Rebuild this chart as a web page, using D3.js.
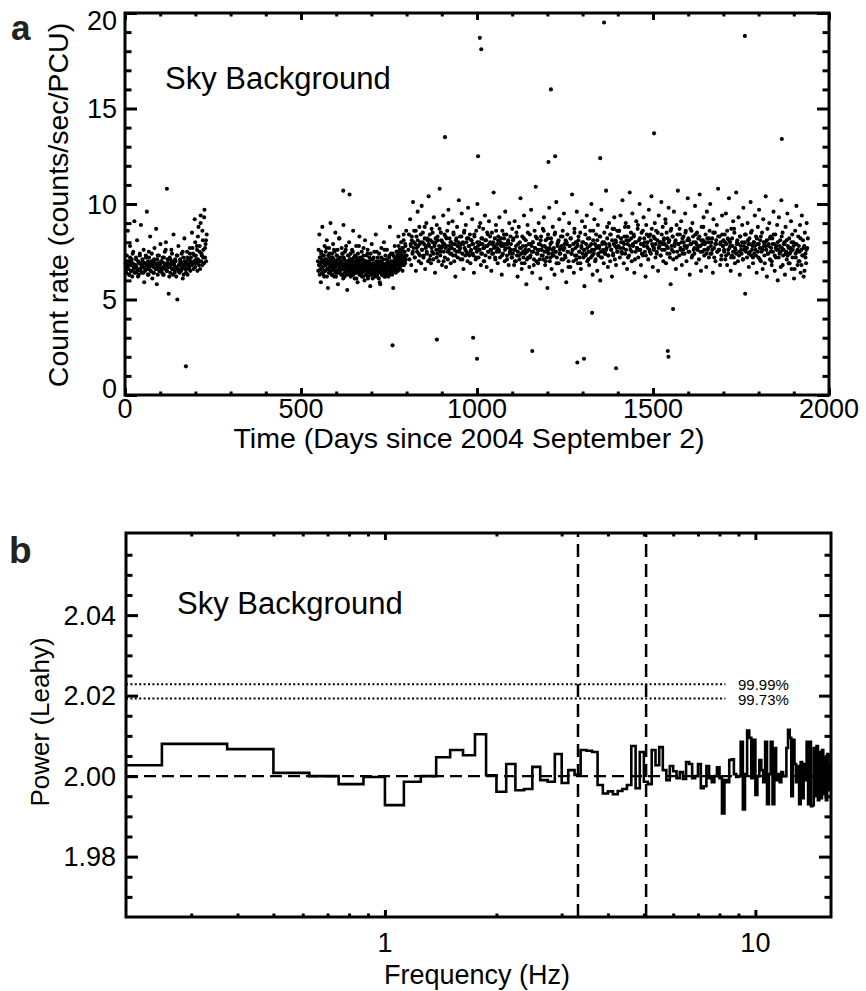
<!DOCTYPE html>
<html>
<head>
<meta charset="utf-8">
<script src="https://cdn.jsdelivr.net/npm/d3@7"></script>
<style>
  body { margin: 0; background: #fff; }
  text { font-family: "Liberation Sans", Arial, Helvetica, sans-serif; fill: #000; }
</style>
</head>
<body>
<svg id="chart" width="866" height="991"></svg>
<script>
'use strict';

// ---------- panel a: sky background count rate ----------
// each segment: [firstDay, lastDay] and the rates read off the cloud
const seg1Days = [2, 232];
const seg1Rates = [
  6.9,6.4,7.3,6.7,8.6,6.6,7.0,6.3,7.8,6.8, 6.5,7.1,6.2,6.9,7.5,6.6,9.1,6.8,6.4,7.2,
  6.7,8.1,6.5,7.0,6.3,6.9,7.4,6.6,8.9,6.8, 6.4,7.1,6.7,7.6,5.9,6.9,6.5,7.3,6.8,9.6,
  6.6,7.0,6.3,7.2,6.9,8.3,6.5,6.8,7.4,6.1, 7.0,6.7,6.4,7.7,6.9,6.6,8.7,6.8,7.1,6.3,
  6.9,7.3,6.5,6.8,7.9,6.6,7.0,6.4,7.2,6.7, 6.3,6.9,7.5,6.6,8.0,6.8,6.5,7.1,6.9,5.3,
  6.7,7.2,6.4,6.9,7.6,6.6,7.0,6.3,8.4,6.8, 6.5,7.1,6.7,6.2,7.3,5.0,6.6,7.8,6.8,6.4,
  6.9,7.0,6.5,7.4,6.7,6.1,7.2,6.8,8.2,6.6, 7.0,6.4,6.9,7.5,6.3,6.8,7.1,6.6,7.7,6.5,
  7.2,6.8,8.5,6.9,7.4,6.6,7.0,9.2,6.7,7.3, 6.9,7.8,6.5,7.1,8.8,6.8,7.5,6.6,9.4,7.0,
  7.3,6.8,8.1,7.6,6.9,9.7,7.2,7.9,7.0,8.4
];
const seg1bDays = [4, 230];
const seg1bRates = [
  6.6,7.0,6.8,6.3,7.2,6.5,6.9,7.4,6.7,6.4, 6.8,7.1,6.6,6.2,6.9,7.3,6.5,6.7,7.0,6.4,
  6.9,6.6,7.2,6.8,6.3,7.5,6.7,6.5,7.0,6.8, 6.4,7.1,6.9,6.6,5.8,7.3,6.7,6.5,6.9,7.0,
  6.6,6.3,7.2,6.8,7.6,6.5,6.9,6.7,6.2,7.1, 6.8,7.4,6.6,6.9,6.4,7.0,6.7,7.3,6.5,6.8,
  7.1,6.6,6.9,7.5,6.3,7.0,6.8,6.6,7.2,6.9, 6.7,7.4,7.0,6.8,7.7,6.9,7.3,8.0,7.1,7.6,
  8.3,7.0,7.8,9.0,7.4,8.6,7.2,9.3,7.7,8.1
];
const seg2Days = [548, 800];
const seg2Rates = [
  7.0,6.5,7.6,6.8,8.4,6.3,7.2,6.9,5.9,7.4, 6.6,7.1,8.8,6.7,6.4,7.3,7.0,6.2,7.8,6.9,
  6.5,7.5,6.8,7.1,8.1,6.6,7.0,5.6,7.3,6.9, 7.7,6.4,7.2,6.8,9.0,6.5,7.0,6.3,7.4,6.9,
  6.7,7.9,6.6,7.1,6.2,7.5,6.8,8.5,6.4,7.0, 6.9,7.3,6.5,7.6,5.8,7.1,6.8,6.4,8.2,6.7,
  7.2,6.5,7.0,6.9,7.7,6.3,6.8,7.4,6.6,8.9, 6.9,7.1,6.2,7.5,6.7,6.4,7.8,6.8,7.0,5.5,
  6.6,7.3,6.9,6.5,8.0,6.8,7.1,6.3,7.4,6.7, 6.9,6.4,7.6,6.6,7.0,8.6,6.5,7.2,6.8,6.1,
  7.3,6.7,6.9,7.8,6.4,7.1,6.6,5.9,7.4,6.8, 6.5,7.0,8.3,6.7,6.3,7.2,6.9,6.6,7.5,6.4,
  6.8,7.1,6.2,7.7,6.6,6.9,6.5,8.1,6.7,7.0, 6.3,7.3,6.8,6.5,7.6,6.1,6.9,7.0,6.4,7.2,
  6.6,5.7,7.4,6.8,6.5,7.9,6.3,6.7,7.1,6.6, 6.9,6.4,7.5,6.2,6.8,6.6,8.4,6.5,7.0,6.3,
  6.7,7.2,6.4,6.9,6.1,7.4,6.6,6.8,5.8,7.0, 6.5,7.7,6.3,6.7,6.9,6.4,7.1,6.6,8.0,6.2,
  6.8,6.5,7.3,6.7,6.3,6.9,7.6,6.4,6.6,7.0, 6.2,6.8,7.2,6.5,8.8,6.7,6.4,7.4,6.9,6.6,
  6.3,7.0,6.6,5.6,7.3,6.8,6.5,7.8,6.7,7.1, 6.4,6.9,7.5,6.6,6.8,7.2,6.5,8.3,6.9,7.0,
  6.7,7.4,6.6,7.1,6.8,7.6,6.9,7.3,6.5,7.7, 7.0,8.1,6.8,7.2,7.5,6.9,7.8,7.1,8.6,7.3
];
const seg2bDays = [552, 796];
const seg2bRates = [
  6.8,7.2,6.6,6.9,7.5,6.4,7.0,6.7,6.3,7.3, 6.9,6.5,7.1,6.8,7.7,6.2,6.6,7.0,6.9,6.4,
  7.4,6.7,6.5,7.1,6.8,6.3,7.2,6.6,6.9,7.6, 6.5,7.0,6.7,6.2,7.3,6.8,6.4,7.1,6.6,8.2,
  6.9,6.5,7.0,6.3,6.8,7.4,6.6,6.1,7.2,6.7, 6.4,6.9,7.6,6.5,6.8,6.3,7.0,6.7,7.3,6.4,
  6.6,6.9,6.2,7.1,6.5,6.8,7.5,6.3,6.7,6.6, 7.0,6.4,6.8,6.1,7.2,6.6,6.5,6.9,7.8,6.3,
  6.7,6.4,7.1,6.6,6.2,6.9,6.5,7.3,6.8,6.0, 6.6,7.0,6.3,6.7,6.5,7.4,6.2,6.8,6.6,6.4,
  6.9,6.3,7.1,6.5,6.7,6.1,6.8,7.2,6.4,6.6, 6.3,6.9,6.5,7.5,6.2,6.7,6.4,7.0,6.6,5.9,
  6.8,6.5,7.2,6.3,6.6,6.9,6.4,6.7,7.6,6.5, 6.2,6.8,6.6,7.1,6.4,6.9,6.5,6.3,7.3,6.7,
  6.6,7.0,6.4,6.8,7.4,6.5,6.9,6.7,7.2,6.6, 7.0,6.8,7.5,6.9,7.3,7.1,7.8,6.9,7.6,7.2,
  7.4,8.0,7.1,7.7,6.8,7.3,8.4,7.5,7.0,7.9
];
const seg3Days = [805, 1100];
const seg3Rates = [
  7.6,8.4,7.1,9.2,7.9,6.8,8.1,7.4,10.1,7.7, 8.6,7.2,7.9,6.5,8.3,7.5,9.6,7.8,7.0,8.8,
  7.3,8.0,6.9,9.9,7.6,8.5,7.2,7.9,8.2,6.6, 7.7,9.0,7.4,8.1,7.0,10.4,7.8,8.4,7.3,6.9,
  8.7,7.5,8.0,7.1,9.3,7.8,6.4,8.2,7.6,8.9, 7.4,8.1,7.0,7.8,10.8,7.3,8.5,7.7,6.8,8.0,
  9.4,7.5,7.9,7.2,8.3,6.7,7.8,8.6,7.1,9.7, 7.6,8.2,7.4,6.9,8.0,7.7,9.1,7.3,8.4,7.0,
  7.9,6.2,8.1,7.5,8.8,7.2,7.8,10.2,7.6,8.3, 7.1,7.9,9.5,7.4,8.0,6.6,8.5,7.7,7.3,8.9,
  7.5,8.2,7.0,9.8,7.8,7.3,8.4,6.9,7.6,8.1, 9.2,7.4,7.9,6.4,8.3,7.7,7.1,8.6,7.5,10.0,
  7.8,7.2,8.0,7.6,9.0,6.8,8.2,7.4,7.9,8.7, 7.0,7.7,9.4,7.3,8.1,6.7,7.8,8.4,7.5,9.1,
  7.2,8.0,7.6,6.5,8.5,7.9,7.4,10.6,7.7,8.2, 7.1,8.9,7.5,7.9,6.9,8.3,7.6,9.3,7.2,8.0,
  7.8,6.3,8.6,7.4,7.9,8.2,7.0,9.6,7.7,8.4, 7.3,7.9,8.1,6.8,9.0,7.5,8.3,7.6,7.2,8.7
];
const seg4Days = [1102, 1400];
const seg4Rates = [
  7.4,8.2,6.8,9.1,7.6,7.0,8.5,7.3,6.2,7.9, 8.8,7.1,7.7,10.3,7.4,6.6,8.3,7.8,7.2,9.4,
  6.9,7.6,8.1,5.8,7.5,8.9,7.2,7.9,6.7,8.4, 7.3,9.7,7.8,6.4,8.0,7.5,7.1,8.6,7.7,10.9,
  7.0,8.2,7.4,6.9,9.0,7.6,7.9,6.1,8.3,7.3, 7.8,8.7,7.1,9.3,7.5,6.8,8.1,7.7,7.2,5.6,
  8.4,7.6,9.8,7.0,7.9,8.2,6.6,7.4,8.8,7.3, 7.7,6.3,8.5,7.5,10.1,7.2,7.9,8.0,6.9,9.2,
  7.6,7.4,8.3,7.8,6.5,8.6,7.1,9.5,7.7,7.3, 8.1,5.9,7.9,8.4,7.5,7.0,9.0,7.8,6.7,8.2,
  7.4,10.5,7.6,7.9,6.4,8.7,7.3,8.0,7.1,9.6, 7.8,6.9,8.3,7.5,7.2,8.5,6.6,7.7,9.1,7.4,
  8.0,7.6,5.7,8.8,7.3,7.9,9.4,7.0,8.2,7.5, 6.8,7.8,8.6,7.2,10.0,7.6,6.3,8.1,7.4,9.2,
  7.9,7.1,8.4,7.7,6.5,8.9,7.3,7.8,8.3,6.0, 7.5,9.7,7.2,8.0,7.6,6.9,8.5,7.4,7.9,10.7,
  7.7,8.2,6.7,7.3,9.0,7.8,7.0,8.4,7.6,6.2, 8.7,7.4,7.9,9.3,7.1,8.1,6.8,7.7,8.6,7.5
];
const seg5Days = [1402, 1700];
const seg5Rates = [
  7.8,8.6,7.2,9.4,8.0,7.5,10.2,7.7,6.9,8.3, 7.4,9.0,8.1,6.6,7.9,8.8,7.3,10.6,7.6,8.2,
  7.0,9.5,7.8,8.4,6.4,8.0,7.5,9.1,7.7,8.7, 7.2,8.1,10.0,7.6,6.8,8.5,7.9,7.3,9.3,8.2,
  7.5,6.2,8.9,7.8,8.0,7.1,9.7,7.6,8.4,7.4, 10.4,7.9,6.7,8.3,7.7,9.0,7.2,8.6,7.5,8.1,
  6.5,9.4,7.8,8.0,7.3,10.1,7.6,8.8,7.0,8.2, 7.9,9.2,6.9,8.5,7.4,7.7,9.8,8.1,7.2,5.8,
  8.7,7.6,8.3,7.1,9.6,7.8,8.0,6.6,8.9,7.5, 10.7,7.9,7.3,8.4,7.7,9.1,6.8,8.2,7.6,8.0,
  7.4,9.5,8.6,7.0,7.8,10.3,7.5,8.1,6.3,8.7, 7.9,7.2,9.0,8.3,7.6,7.4,9.9,8.0,6.9,8.5,
  7.7,8.2,7.1,10.5,7.8,6.5,8.8,7.5,8.1,9.3, 7.3,7.9,8.4,6.7,9.6,7.6,8.0,7.2,8.6,10.0,
  7.8,7.4,8.2,6.4,9.2,7.7,8.5,7.0,7.9,8.9, 7.5,10.8,7.6,8.3,6.8,8.0,7.3,9.4,7.8,8.1
];
const seg6Days = [1702, 1940];
const seg6Rates = [
  7.6,8.4,7.1,9.5,7.9,6.8,8.2,7.4,10.3,7.7, 8.0,6.5,8.7,7.3,7.8,9.1,7.2,8.5,6.9,7.6,
  10.6,7.9,8.1,7.0,9.3,7.5,6.3,8.3,7.8,7.4, 8.9,7.1,9.8,7.6,8.0,5.3,8.4,7.7,7.2,9.0,
  7.9,6.7,8.2,7.5,10.1,7.3,8.6,7.8,6.9,8.0, 7.4,9.4,7.6,8.3,6.4,7.9,8.8,7.2,9.7,7.7,
  8.1,7.0,7.5,8.5,6.6,9.2,7.8,7.3,8.0,10.4, 7.6,6.2,8.7,7.4,7.9,9.0,7.1,8.3,7.7,6.8,
  8.2,7.5,9.6,7.9,6.5,8.4,7.2,7.8,8.9,6.0, 7.6,9.3,7.4,8.1,6.7,10.2,7.7,8.5,7.3,7.9,
  8.0,6.3,8.8,7.5,7.1,9.5,7.8,6.9,8.2,7.4, 7.7,9.1,6.6,8.4,7.6,8.0,6.1,7.9,8.6,7.2,
  9.9,7.5,6.8,8.3,7.8,7.0,8.9,6.4,7.6,9.4, 7.3,8.1,6.2,7.8,8.5,7.4,6.9,9.0,7.7,8.2
];
// second pass over the long stretch: the dense core of the cloud
const seg7Days = [812, 1936];
const seg7Rates = [
  7.8,8.3,7.5,8.0,7.2,8.6,7.7,8.1,7.4,7.9, 8.4,7.6,8.0,7.3,8.8,7.8,7.5,8.2,7.9,7.1,
  8.1,7.7,8.5,7.4,7.9,8.0,7.2,8.3,7.6,8.7, 7.5,8.1,7.8,7.0,8.4,7.7,8.2,7.5,9.0,7.8,
  8.0,7.4,7.9,8.5,7.6,7.3,8.2,7.8,8.0,7.5, 7.7,8.3,7.1,7.9,8.6,7.6,8.0,7.4,8.2,7.8,
  7.5,8.1,7.9,7.3,8.4,7.7,7.2,8.0,7.6,8.8, 7.9,7.4,8.2,7.7,7.0,8.1,7.8,8.5,7.5,7.9,
  8.3,7.6,7.4,8.0,7.8,7.2,8.6,7.7,8.1,7.5, 7.9,8.2,7.3,7.8,8.4,7.6,7.9,7.1,8.0,7.7,
  7.4,7.9,7.2,8.1,7.6,7.0,7.8,8.3,7.5,7.3, 8.0,7.7,6.9,7.5,8.2,7.4,7.8,7.1,8.5,7.6,
  7.2,7.9,7.5,8.0,6.8,7.7,8.3,7.4,7.6,7.9, 7.1,8.1,7.6,7.3,8.6,7.8,7.0,7.5,8.2,7.4,
  7.7,7.2,8.0,7.6,7.3,8.4,7.5,6.9,7.8,8.1, 7.4,7.7,7.1,8.3,7.6,7.9,7.2,8.0,7.5,6.7,
  7.8,8.2,7.4,7.6,7.0,8.5,7.7,7.3,7.9,8.1, 7.5,6.9,7.8,8.0,7.2,7.6,8.4,7.4,7.7,7.1,
  8.2,7.5,7.9,7.3,8.6,7.6,7.0,7.8,8.1,7.4, 7.7,8.3,7.2,7.9,7.5,8.0,7.4,7.6,8.8,7.3,
  7.9,8.4,7.6,8.1,7.3,8.7,7.8,8.0,7.5,8.3, 8.6,7.7,8.2,7.4,8.0,7.9,8.8,7.6,8.3,7.2,
  8.1,7.8,8.5,7.5,7.9,8.3,7.1,8.0,7.7,8.9, 7.6,8.2,7.9,7.4,8.6,7.8,8.0,7.3,8.4,7.7,
  8.3,7.5,8.1,8.7,7.8,7.6,8.2,7.9,7.4,8.5, 7.7,8.0,7.3,8.4,7.9,8.1,7.6,9.0,7.8,8.2,
  8.0,7.4,8.6,7.8,8.3,7.5,7.9,8.1,7.2,8.4, 7.9,8.7,7.6,8.0,7.4,8.3,7.8,8.5,7.7,8.1,
  8.2,7.5,7.9,8.6,7.3,8.0,7.7,8.4,7.9,7.6, 7.8,8.3,7.5,8.1,7.9,8.8,7.6,8.0,7.4,8.2,
  7.7,8.2,7.4,8.0,7.6,8.5,7.2,7.9,8.1,7.5, 8.3,7.6,7.9,7.1,8.4,7.8,7.5,8.0,7.3,8.6,
  7.6,8.1,7.8,7.2,8.2,7.5,8.7,7.7,7.4,8.0, 7.9,7.3,8.3,7.6,8.0,7.1,7.8,8.4,7.5,7.7,
  8.1,7.4,7.9,8.5,7.6,7.2,8.0,7.8,7.3,8.2, 7.5,7.9,7.1,8.3,7.7,7.6,8.0,6.9,7.8,8.1,
  7.4,7.8,8.2,7.5,7.0,7.9,8.4,7.3,7.7,7.6, 8.0,7.2,7.8,7.5,8.3,6.8,7.6,7.9,7.4,8.1,
  7.3,7.7,6.9,7.5,8.0,7.2,7.8,6.6,7.4,7.9, 7.6,7.0,7.5,8.2,6.8,7.3,7.7,6.5,7.2,7.6
];
// isolated points well away from the cloud
const outlierDays  = [119, 173, 620, 638, 760, 886, 909, 989, 1000, 1003, 1008, 1012, 1157, 1203, 1210, 1222, 1285, 1304, 1327, 1350, 1361, 1395, 1503, 1542, 1544, 1557, 1761, 1866];
const outlierRates = [10.8, 1.5, 10.7, 10.5, 2.6, 2.9, 13.5, 3.0, 1.9, 12.5, 18.7, 18.1, 2.3, 12.2, 16.0, 12.5, 1.7, 1.9, 4.3, 12.4, 19.5, 1.4, 13.7, 2.3, 2.0, 4.5, 18.8, 13.4];

const timeTicks = [0, 500, 1000, 1500, 2000];
const rateTicks = [0, 5, 10, 15, 20];

// ---------- panel b: power spectrum ----------
const binWidth = 0.125;            // Hz, first bin starts at 0.125 Hz
const leahyPower = [
  2.0027, 2.0080, 2.0067, 2.0008, 2.0000, 1.9980, 1.9998, 1.9928, 1.9986, 2.0000,
  2.0047, 2.0065, 2.0052, 2.0104, 2.0002, 1.9961, 2.0030, 1.9965, 1.9968, 2.0023,
  1.9990, 1.9986, 2.0055, 1.9983, 2.0015, 2.0003, 2.0065, 2.0063, 2.0060, 1.9978,
  1.9957, 1.9962, 1.9955, 1.9963, 1.9968, 1.9978, 2.0075, 1.9970, 2.0060,
  1.9986, 1.9980, 2.0065, 2.0027, 2.0072, 2.0015, 1.9990, 2.0025,
  2.0012, 1.9995, 2.0010, 1.9993, 2.0035, 2.0030, 1.9995, 2.0000,
  2.0030, 1.9970, 1.9975, 2.0025, 1.9995, 1.9985, 2.0000, 2.0022,
  1.9995, 1.9907, 1.9990, 1.9985, 2.0040, 2.0042, 2.0005, 1.9998,
  2.0000, 2.0085, 1.9917, 2.0005, 2.0113, 2.0095, 1.9995, 2.0090,
  1.9953, 2.0000, 2.0040, 2.0015, 1.9985, 2.0085, 1.9930, 2.0005,
  2.0085, 1.9930, 2.0070, 1.9990, 2.0005, 1.9985, 2.0010, 2.0000,
  2.0000, 2.0070, 2.0115, 2.0095, 1.9950, 2.0090, 2.0030, 1.9985,
  2.0025, 1.9930, 2.0035, 1.9945, 2.0030, 1.9990, 2.0085, 1.9930,
  2.0085, 1.9925, 1.9928, 2.0070, 1.9950, 2.0075, 1.9940, 2.0060,
  1.9945, 2.0065, 1.9955, 2.0045, 1.9940, 2.0055, 1.9965, 2.0030
];
const meanPower = 2.0;
const confLevels = [2.0228, 2.0193];
const confLabels = ['99.99%', '99.73%'];
const confEnd = 8.3;               // Hz where the dotted lines stop
const markFreqs = [3.32, 5.07];    // vertical dashed lines
const freqTicks = [1, 10];
const powerTicks = [1.98, 2.00, 2.02, 2.04];

// ---------- drawing ----------
const svg = d3.select('#chart');
svg.append('rect').attr('width', 866).attr('height', 991).attr('fill', '#fff');

const AXW = 3;
const TICKFONT = 27;

function drawTicks(g, axisFn, scale, values, len, transform) {
  g.append('g')
    .attr('transform', transform)
    .call(axisFn(scale).tickValues(values).tickSize(-len).tickFormat(''))
    .call(s => s.select('.domain').remove())
    .selectAll('line').attr('stroke', '#000').attr('stroke-width', AXW);
}

function frame(g, x, y, xMaj, xMin, yMaj, yMin) {
  const [x0, x1] = x.range();
  const [y0, y1] = y.range();   // y0 bottom, y1 top
  drawTicks(g, d3.axisBottom, x, xMaj, 7, `translate(0,${y0})`);
  drawTicks(g, d3.axisBottom, x, xMin, 3.5, `translate(0,${y0})`);
  drawTicks(g, d3.axisTop, x, xMaj, 7, `translate(0,${y1})`);
  drawTicks(g, d3.axisTop, x, xMin, 3.5, `translate(0,${y1})`);
  drawTicks(g, d3.axisLeft, y, yMaj, 12, `translate(${x0},0)`);
  drawTicks(g, d3.axisLeft, y, yMin, 6.5, `translate(${x0},0)`);
  drawTicks(g, d3.axisRight, y, yMaj, 12, `translate(${x1},0)`);
  drawTicks(g, d3.axisRight, y, yMin, 6.5, `translate(${x1},0)`);
  g.append('rect')
    .attr('x', x0).attr('y', y1)
    .attr('width', x1 - x0).attr('height', y0 - y1)
    .attr('fill', 'none').attr('stroke', '#000').attr('stroke-width', AXW);
}

// ----- panel a -----
const xa = d3.scaleLinear().domain([0, 2000]).range([125, 829]);
const ya = d3.scaleLinear().domain([0, 20]).range([395, 13]);
const ga = svg.append('g');

const segments = [
  [seg1Days, seg1Rates], [seg1bDays, seg1bRates],
  [seg2Days, seg2Rates], [seg2bDays, seg2bRates],
  [seg3Days, seg3Rates], [seg4Days, seg4Rates], [seg5Days, seg5Rates],
  [seg6Days, seg6Rates], [seg7Days, seg7Rates]
];
const points = [];
segments.forEach(([days, rates]) => {
  const step = (days[1] - days[0]) / (rates.length - 1);
  rates.forEach((r, i) => points.push({ t: days[0] + i * step, r }));
});
outlierDays.forEach((t, i) => points.push({ t, r: outlierRates[i] }));

ga.append('g').selectAll('circle')
  .data(points)
  .join('circle')
  .attr('cx', d => xa(d.t))
  .attr('cy', d => ya(d.r))
  .attr('r', 2.05)
  .attr('fill', '#000');

frame(ga, xa, ya,
  timeTicks, d3.range(100, 2000, 100).filter(v => v % 500 !== 0),
  rateTicks, d3.range(1, 20).filter(v => v % 5 !== 0));

ga.append('g').selectAll('text')
  .data(timeTicks).join('text')
  .attr('x', d => xa(d)).attr('y', 418)
  .attr('text-anchor', 'middle').attr('font-size', TICKFONT)
  .text(d => d);
ga.append('g').selectAll('text')
  .data(rateTicks).join('text')
  .attr('x', 117).attr('y', d => Math.min(Math.max(ya(d), 20), 388))
  .attr('dy', '0.36em')
  .attr('text-anchor', 'end').attr('font-size', TICKFONT)
  .text(d => d);

ga.append('text').attr('x', 469).attr('y', 448)
  .attr('text-anchor', 'middle').attr('font-size', 28.5)
  .text('Time (Days since 2004 September 2)');
ga.append('text')
  .attr('transform', 'translate(68,205) rotate(-90)')
  .attr('text-anchor', 'middle').attr('font-size', 28.5)
  .text('Count rate (counts/sec/PCU)');
ga.append('text').attr('x', 165).attr('y', 89).attr('font-size', 31)
  .text('Sky Background');
ga.append('text').attr('x', 11).attr('y', 40).attr('font-size', 35)
  .attr('font-weight', 'bold').style('fill', '#222').text('a');

// ----- panel b -----
const xb = d3.scaleLog().domain([0.2, 16]).range([126, 831]);
const yb = d3.scaleLinear().domain([1.965, 2.0604]).range([917, 533]);
const gb = svg.append('g');

svg.append('clipPath').attr('id', 'clipb')
  .append('rect').attr('x', 126).attr('y', 533).attr('width', 705).attr('height', 384);

const steps = leahyPower.map((p, i) => ({ f: binWidth * (i + 1), p }));
steps.push({ f: binWidth * (leahyPower.length + 1), p: leahyPower[leahyPower.length - 1] });

const plot = gb.append('g').attr('clip-path', 'url(#clipb)');

plot.append('line')
  .attr('x1', xb(0.2)).attr('x2', xb(16))
  .attr('y1', yb(meanPower)).attr('y2', yb(meanPower))
  .attr('stroke', '#000').attr('stroke-width', 2.2).attr('stroke-dasharray', '12,6');

plot.selectAll('.conf')
  .data(confLevels).join('line')
  .attr('class', 'conf')
  .attr('x1', xb(0.2)).attr('x2', xb(confEnd))
  .attr('y1', d => yb(d)).attr('y2', d => yb(d))
  .attr('stroke', '#000').attr('stroke-width', 2).attr('stroke-dasharray', '2,2.4');

plot.selectAll('.mark')
  .data(markFreqs).join('line')
  .attr('class', 'mark')
  .attr('x1', d => xb(d)).attr('x2', d => xb(d))
  .attr('y1', 917).attr('y2', 533)
  .attr('stroke', '#000').attr('stroke-width', 2.5).attr('stroke-dasharray', '13,7');

plot.append('path')
  .datum(steps)
  .attr('d', d3.line().curve(d3.curveStepAfter).x(d => xb(d.f)).y(d => yb(d.p)))
  .attr('fill', 'none').attr('stroke', '#000').attr('stroke-width', 2.6);

gb.selectAll('.conflabel')
  .data(confLabels).join('text')
  .attr('class', 'conflabel')
  .attr('x', 738).attr('y', (d, i) => yb(confLevels[i]) + 5.5 + i * 1)
  .attr('font-size', 15)
  .text(d => d);

const minorF = [0.3, 0.4, 0.5, 0.6, 0.7, 0.8, 0.9, 2, 3, 4, 5, 6, 7, 8, 9];
const minorP = d3.range(1.97, 2.06, 0.005).filter(v => Math.abs(Math.round(v * 50) - v * 50) > 1e-6);
frame(gb, xb, yb, freqTicks, minorF, powerTicks, minorP);

gb.append('g').selectAll('text')
  .data(freqTicks).join('text')
  .attr('x', d => xb(d)).attr('y', 952)
  .attr('text-anchor', 'middle').attr('font-size', TICKFONT)
  .text(d => d);
gb.append('g').selectAll('text')
  .data(powerTicks).join('text')
  .attr('x', 116).attr('y', d => yb(d))
  .attr('dy', '0.36em')
  .attr('text-anchor', 'end').attr('font-size', TICKFONT)
  .text(d => d.toFixed(2));

gb.append('text').attr('x', 477).attr('y', 984)
  .attr('text-anchor', 'middle').attr('font-size', 27)
  .text('Frequency (Hz)');
gb.append('text')
  .attr('transform', 'translate(49,722) rotate(-90)')
  .attr('text-anchor', 'middle').attr('font-size', 26)
  .text('Power (Leahy)');
gb.append('text').attr('x', 177).attr('y', 614).attr('font-size', 31)
  .text('Sky Background');
gb.append('text').attr('x', 9).attr('y', 563).attr('font-size', 37)
  .attr('font-weight', 'bold').style('fill', '#222').text('b');
</script>
</body>
</html>
